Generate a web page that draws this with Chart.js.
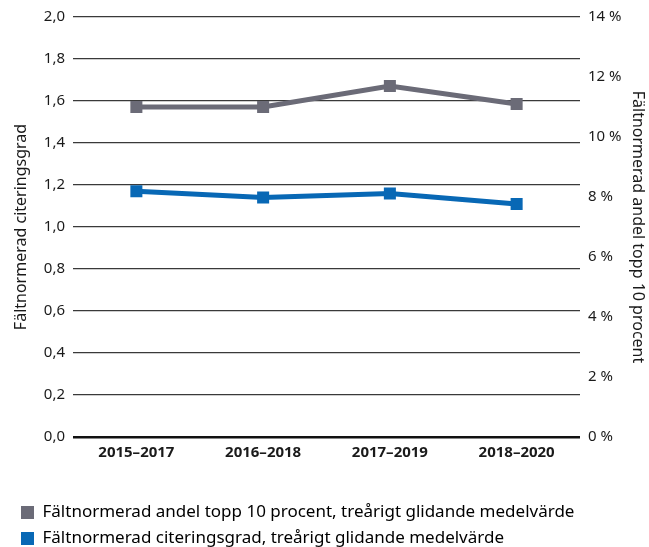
<!DOCTYPE html>
<html>
<head>
<meta charset="utf-8">
<script src="https://cdn.jsdelivr.net/npm/chart.js@4"></script>
<style>
  html, body { margin: 0; padding: 0; background: #fff; }
  #wrap { width: 649px; height: 547px; }
</style>
</head>
<body>
<div id="wrap"><canvas id="chart" width="649" height="547"></canvas></div>
<script>
// periods on the x axis
const periods = ['2015–2017', '2016–2018', '2017–2019', '2018–2020'];
// field-normalised share in top 10 percent (right axis, %)
const top10Share = [11.0, 11.0, 11.7, 11.1];
// field-normalised citation rate (left axis)
const citationRate = [1.17, 1.14, 1.16, 1.11];

const leftTicks = [0, 0.2, 0.4, 0.6, 0.8, 1.0, 1.2, 1.4, 1.6, 1.8, 2.0];
const rightTicks = [0, 2, 4, 6, 8, 10, 12, 14];

const grey = '#6b6b77';
const blue = '#0868b5';
const font = '"Noto Sans", sans-serif';

Chart.defaults.font.family = font;
Chart.defaults.color = '#1a1a1a';
Chart.defaults.animation = false;

new Chart(document.getElementById('chart'), {
  type: 'line',
  data: {
    labels: periods,
    datasets: [
      {
        label: 'Fältnormerad andel topp 10 procent, treårigt glidande medelvärde',
        data: top10Share,
        yAxisID: 'yR',
        borderColor: grey,
        backgroundColor: grey,
        borderWidth: 5,
        pointStyle: 'rect',
        pointRadius: 8.5,
        pointBorderWidth: 0,
        tension: 0
      },
      {
        label: 'Fältnormerad citeringsgrad, treårigt glidande medelvärde',
        data: citationRate,
        yAxisID: 'y',
        borderColor: blue,
        backgroundColor: blue,
        borderWidth: 5,
        pointStyle: 'rect',
        pointRadius: 8.5,
        pointBorderWidth: 0,
        tension: 0
      }
    ]
  },
  options: {
    responsive: false,
    layout: { padding: { top: 10, left: 12, right: 2, bottom: -10 } },
    plugins: {
      tooltip: { enabled: false },
      legend: {
        position: 'bottom',
        align: 'start',
        labels: {
          boxWidth: 13,
          boxHeight: 13,
          padding: 9,
          color: '#1a1a1a',
          font: { size: 17, family: font },
          generateLabels: chart => chart.data.datasets.map((ds, i) => ({
            text: ds.label,
            fillStyle: ds.borderColor,
            strokeStyle: ds.borderColor,
            lineWidth: 0,
            datasetIndex: i
          }))
        }
      }
    },
    scales: {
      x: {
        offset: true,
        grid: { display: false, drawTicks: false },
        border: { display: false },
        afterFit: axis => { axis.height = 58; },
        ticks: { padding: 7, color: '#1a1a1a', font: { size: 15, weight: 'bold', family: font } }
      },
      y: {
        position: 'left',
        min: 0,
        max: 2,
        afterBuildTicks: axis => { axis.ticks = leftTicks.map(v => ({ value: v })); },
        afterFit: axis => { axis.width = 61; },
        border: { display: false },
        grid: {
          drawTicks: false,
          color: ctx => ctx.tick && ctx.tick.value === 0 ? '#111' : '#3a3a3a',
          lineWidth: ctx => ctx.tick && ctx.tick.value === 0 ? 2.5 : 1.2
        },
        ticks: {
          padding: 8,
          color: '#1a1a1a',
          font: { size: 15, family: font },
          callback: v => v.toFixed(1).replace('.', ',')
        },
        title: {
          display: true,
          text: 'Fältnormerad citeringsgrad',
          color: '#1a1a1a',
          font: { size: 16, family: font },
          padding: { top: 0, bottom: 2 }
        }
      },
      yR: {
        position: 'right',
        min: 0,
        max: 14,
        afterBuildTicks: axis => { axis.ticks = rightTicks.map(v => ({ value: v })); },
        afterFit: axis => { axis.width = 67; },
        border: { display: false },
        grid: { display: false, drawTicks: false },
        ticks: {
          padding: 8,
          color: '#1a1a1a',
          font: { size: 15, family: font },
          callback: v => v + ' %'
        },
        title: {
          display: true,
          text: 'Fältnormerad andel topp 10 procent',
          color: '#1a1a1a',
          font: { size: 16, family: font },
          padding: { top: 0, bottom: 0 }
        }
      }
    }
  }
});
</script>
</body>
</html>
